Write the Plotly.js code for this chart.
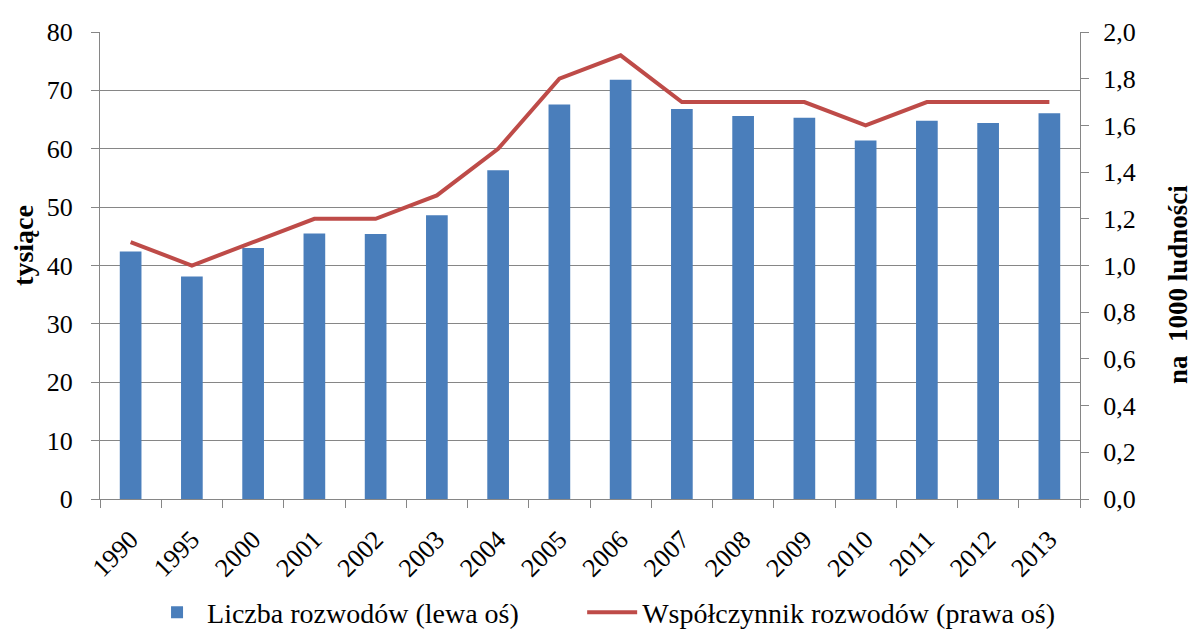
<!DOCTYPE html>
<html>
<head>
<meta charset="utf-8">
<script src="https://cdn.plot.ly/plotly-3.0.1.min.js"></script>
<style>html,body{margin:0;padding:0;background:#fff;}#chart{width:1201px;height:631px;}</style>
</head>
<body>
<div id="chart"></div>
<script>
const years = ["1990","1995","2000","2001","2002","2003","2004","2005","2006","2007","2008","2009","2010","2011","2012","2013"];
const divorces = [42.4, 38.1, 43.0, 45.5, 45.4, 48.6, 56.3, 67.6, 71.8, 66.8, 65.6, 65.3, 61.4, 64.8, 64.4, 66.1];
const rate = [1.1, 1.0, 1.1, 1.2, 1.2, 1.3, 1.5, 1.8, 1.9, 1.7, 1.7, 1.7, 1.6, 1.7, 1.7, 1.7];
const barName = "Liczba rozwodów (lewa oś)";
const lineName = "Współczynnik rozwodów (prawa oś)";
const leftTitle = "tysiące";
const rightTitle = "na  1000 ludności";

const font = "'Liberation Serif', 'Times New Roman', serif";
const grey = "#868686";

const traces = [
  {type: "bar", x: years, y: divorces, name: barName, marker: {color: "#4a7ebb"}, yaxis: "y", legend: "legend"},
  {type: "scatter", mode: "lines", x: years, y: rate, name: lineName, line: {color: "#be4b48", width: 4}, yaxis: "y2", legend: "legend2"}
];

const legendBase = {orientation: "h", xanchor: "left", y: -0.243, yanchor: "middle", font: {family: font, size: 28}, itemwidth: 50, bgcolor: "rgba(0,0,0,0)"};

const layout = {
  width: 1201, height: 631,
  margin: {l: 100, r: 121, t: 32, b: 132, autoexpand: false},
  paper_bgcolor: "#fff", plot_bgcolor: "#fff",
  font: {family: font, size: 26, color: "#000"},
  separators: ", ",
  bargap: 0.646,
  showlegend: true,
  legend: Object.assign({}, legendBase, {x: 0.048}),
  legend2: Object.assign({}, legendBase, {x: 0.492}),
  xaxis: {
    type: "category", tickangle: -45, tickson: "boundaries", ticks: "outside", ticklen: 8, tickcolor: grey,
    showline: true, linecolor: grey, linewidth: 1, showgrid: false, ticklabelstandoff: 14,
    tickfont: {family: font, size: 26}
  },
  yaxis: {
    range: [0, 80], dtick: 10, ticks: "outside", ticklen: 8, tickcolor: grey, ticklabelstandoff: 13,
    showline: true, linecolor: grey, showgrid: true, gridcolor: grey, gridwidth: 1, zeroline: false,
    tickfont: {family: font, size: 26}
  },
  yaxis2: {
    overlaying: "y", side: "right", range: [0, 2], dtick: 0.2, tickformat: ".1f",
    ticks: "outside", ticklen: 8, tickcolor: grey, showline: true, linecolor: grey, showgrid: false, zeroline: false,
    ticklabelstandoff: 9,
    tickfont: {family: font, size: 26}
  },
  annotations: [
    {
      text: "<b>" + leftTitle + "</b>", textangle: -90, showarrow: false,
      xref: "paper", yref: "paper", x: -0.0776, y: 0.544, xanchor: "center", yanchor: "middle",
      font: {family: font, size: 28}
    },
    {
      text: "<b>" + rightTitle + "</b>", textangle: -90, showarrow: false,
      xref: "paper", yref: "paper", x: 1.1, y: 0.458, xanchor: "center", yanchor: "middle",
      font: {family: font, size: 27}
    }
  ]
};

Plotly.newPlot("chart", traces, layout, {displayModeBar: false, staticPlot: true});
</script>
</body>
</html>
